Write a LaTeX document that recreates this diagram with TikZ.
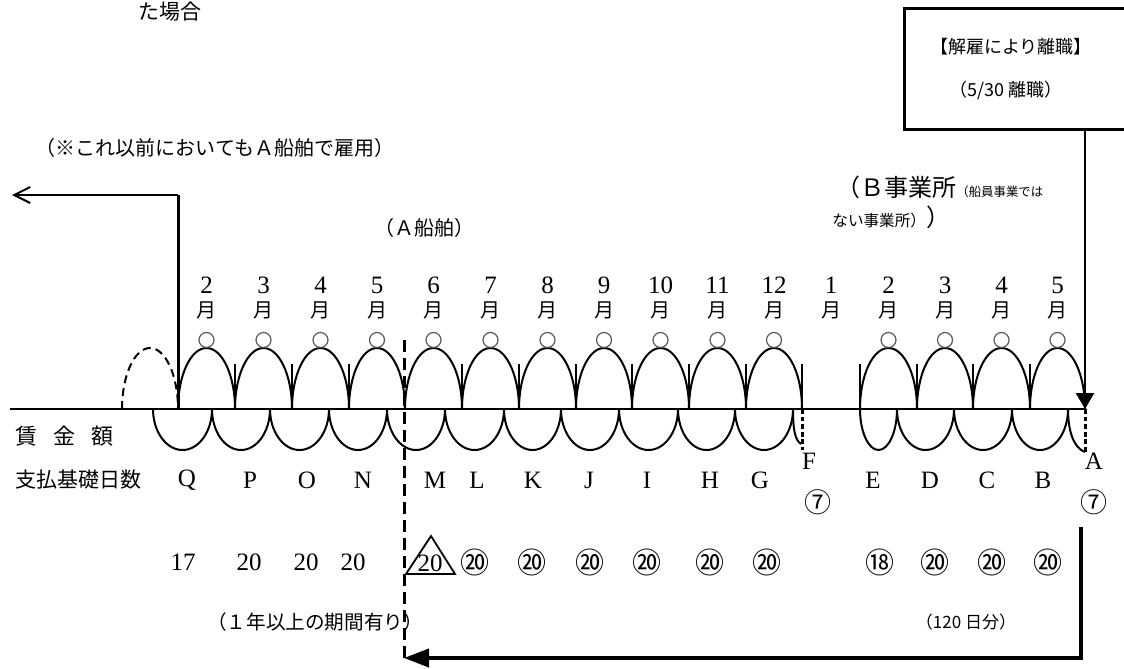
\documentclass[tikz,border=0pt]{standalone}
\usepackage{fontspec}
\setmainfont{Liberation Serif}
\newfontfamily\jp{Noto Sans CJK JP}
\usetikzlibrary{arrows.meta}
\tikzset{
  arch/.style={line width=1pt},
  baseln/.style={line width=1.3pt},
  tickl/.style={line width=1.1pt},
  topc/.style={draw=black!65,line width=0.6pt},
  jptext/.style={font=\jp\fontsize{10}{12}\selectfont, inner sep=0pt},
  latin/.style={font=\fontsize{12.5}{14}\selectfont, inner sep=0pt},
  circnum/.style={font=\jp\fontsize{14.5}{16}\selectfont, inner sep=0pt},
  thickdash/.style={line width=1.5pt, dash pattern=on 2.4pt off 1.4pt},
}
\newcommand\UpArch[3][]{%
  \draw[arch,#1] (#2,409) .. controls (#2,375.3) and ({#2+0.2239*(#3-#2)},348) .. ({0.5*(#2+#3)},348)
    .. controls ({#3-0.2239*(#3-#2)},348) and (#3,375.3) .. (#3,409);}
\newcommand\LowArch[2]{%
  \draw[arch] (#1,409) .. controls (#1,431.6) and ({#1+0.2239*(#2-#1)},450) .. ({0.5*(#1+#2)},450)
    .. controls ({#2-0.2239*(#2-#1)},450) and (#2,431.6) .. (#2,409);}
\begin{document}
\begin{tikzpicture}[x=0.5pt,y=-0.5pt]
\useasboundingbox (0,0) rectangle (1124,669);

% top texts
\node[jptext, font=\jp\fontsize{10.5}{12}\selectfont] (tabaai) at (170,12) {た場合};
\node[jptext] (note) at (215,148) {（※これ以前においてもＡ船舶で雇用）};
\node[jptext] (asen) at (424,228) {（Ａ船舶）};
\node[jptext, anchor=west] (bj1) at (836,187) {\fontsize{12}{14}\selectfont （Ｂ事業所\fontsize{6.2}{7}\selectfont （船員事業では};
\node[jptext, anchor=west] (bj2) at (832,217) {\fontsize{7.8}{9}\selectfont ない事業所）\fontsize{12}{14}\selectfont ）};

% box
\node[draw, line width=1.5pt, minimum width=116pt, minimum height=60.5pt, anchor=north west, inner sep=0pt] (box) at (903,7) {};
\node[jptext, font=\jp\fontsize{9}{11}\selectfont] (k1) at (1011,47) {【解雇により離職】};
\node[jptext, font=\jp\fontsize{9}{11}\selectfont] (k2) at (1006,90) {（5/30 離職）};

% coordinates
\coordinate (Atip) at (1085,409);
\coordinate (P1) at (178,409);
\coordinate (P2) at (178,195);
\coordinate (P3) at (12,195);
\coordinate (D1) at (404,340);
\coordinate (R1) at (1081,527);
\coordinate (R2) at (1081,658);
\coordinate (L2) at (404,658);
\coordinate (B0) at (10,409);

% baseline
\draw[baseln] (B0) -- (Atip);

% left arrow
\draw[line width=1.5pt] (P1) -- (P2);
\draw[line width=1pt, -{Straight Barb[length=8pt,width=8pt,line width=1pt]}] (P2) -- (P3);

% dashed left arch
\UpArch[dash pattern=on 4pt off 2.5pt]{122}{178}

% upper arches with small circles
\foreach \xa/\xb in {178/235,235/292,292/349,349/405,405/462,462/519,519/576,576/632,632/689,689/746,746/802,860/917,917/973,973/1030,1030/1085}{
  \UpArch{\xa}{\xb}
  \draw[topc] ({0.5*(\xa+\xb)},340) circle[radius=7.5];
}
% ticks
\foreach \xt in {235,292,349,462,519,576,632,689,746,802,860,917,973,1030}{
  \draw[tickl] (\xt,364) -- (\xt,409);
}
% lower arches
\foreach \xa/\xb in {153/212,212/270,270/329,329/387,387/445,445/504,504/561,561/619,619/678,678/735,735/793,860/897,897/954,954/1012,1012/1068}{
  \LowArch{\xa}{\xb}
}
\draw[arch] (793,409) .. controls (793,430) and (795,440) .. (801,444);
\draw[arch] (1068,409) .. controls (1068,432) and (1074,448) .. (1085,452);
\draw[thickdash] (802,409) -- (802,450);
\draw[thickdash] (1085,409) -- (1085,452);

% month labels
\foreach \xm/\mn [count=\i] in {206.5/2,263.5/3,320.5/4,377/5,433.5/6,490.5/7,547.5/8,604/9,660.5/10,717.5/11,774/12,831/1,888.5/2,945/3,1001.5/4,1057.5/5}{
  \node[latin] (mn\i) at (\xm,285) {\mn};
  \node[jptext] (my\i) at (\xm,310) {月};
}

% row labels
\node[jptext, font=\jp\fontsize{11}{13}\selectfont, anchor=west] (chin) at (15,436) {賃\hspace{8pt}金\hspace{8pt}額};
\node[jptext, font=\jp\fontsize{10.5}{12}\selectfont, anchor=west] (shi) at (15,480) {支払基礎日数};

% letters
\foreach \xl/\lt in {187/Q,250/P,307/O,363/N,435/M,477/L,533/K,589/J,647/I,710/H,760/G,873/E,930/D,987/C,1043/B}{
  \node[latin] (lt\lt) at (\xl,480) {\lt};
}
\node[latin] (ltF) at (809,461) {F};
\node[latin] (ltA) at (1094,461) {A};
\node[circnum, font=\jp\fontsize{13.5}{15}\selectfont] (c7F) at (818,502) {⑦};
\node[circnum, font=\jp\fontsize{13.5}{15}\selectfont] (c7A) at (1094,502) {⑦};

% numbers
\node[latin] (n17) at (183,562) {17};
\node[latin] (n20p) at (249,562) {20};
\node[latin] (n20o) at (306,562) {20};
\node[latin] (n20n) at (353,562) {20};
\node[latin] (n20m) at (430,563) {20};
\draw[line width=0.9pt] (431,536) -- (455,574) -- (406,574) -- cycle;
\foreach \xc/\cn [count=\j] in {475/⑳,532/⑳,590/⑳,647/⑳,710/⑳,767/⑳,880/⑱,935/⑳,992/⑳,1048/⑳}{
  \node[circnum] (cn\j) at (\xc,562) {\cn};
}

% bottom texts
\node[jptext, font=\jp\fontsize{9.8}{12}\selectfont] (oneyr) at (315,622) {（１年以上の期間有り）};
\node[jptext, font=\jp\fontsize{8.5}{10}\selectfont] (d120) at (966,622) {（120 日分）};

% main dashed line and arrows
\draw[line width=1.5pt, dash pattern=on 6pt off 3pt] (D1) -- (L2);
\draw[line width=1.3pt, -{Triangle[length=8pt,width=9pt]}] (box.south -| Atip) -- (Atip);
\draw[line width=2pt, -{Triangle[length=12.5pt,width=9pt]}] (R1) -- (R2) -- (L2);
\end{tikzpicture}
\end{document}
